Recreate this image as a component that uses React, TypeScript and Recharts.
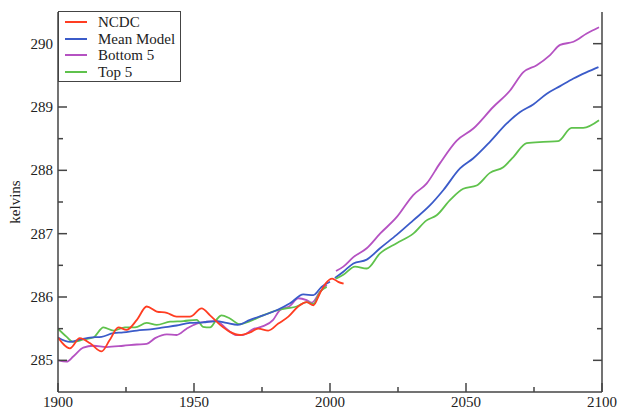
import { LineChart, Line, XAxis, YAxis, Legend } from 'recharts'

// [year, kelvins]
const ncdc = [
  [1900, 285.36], [1904.4, 285.19], [1908, 285.35], [1911.8, 285.27], [1916, 285.14], [1919, 285.32],
  [1922.2, 285.52], [1925.2, 285.48], [1929, 285.64], [1932.6, 285.85], [1936.3, 285.77], [1940, 285.75],
  [1943.6, 285.69], [1948.5, 285.69], [1952.8, 285.82], [1955.9, 285.71], [1959.6, 285.56], [1963.2, 285.45],
  [1966.9, 285.4], [1970.6, 285.44], [1973.6, 285.5], [1977.3, 285.47], [1981, 285.58], [1984.7, 285.69],
  [1988.3, 285.85], [1991.4, 285.92], [1993.9, 285.87], [1996.3, 286.06], [1998.5, 286.22], [2000.8, 286.29],
  [2003, 286.24], [2005, 286.21],
]

const meanHist = [
  [1900, 285.36], [1904.4, 285.29], [1908, 285.33], [1911.8, 285.36], [1916, 285.37], [1920.4, 285.43],
  [1924, 285.44], [1929, 285.47], [1934, 285.49], [1938.8, 285.52], [1943.6, 285.55], [1948.5, 285.59],
  [1953.3, 285.6], [1958.2, 285.62], [1961.9, 285.59], [1966.1, 285.56], [1970.6, 285.64], [1975.4, 285.71],
  [1980.4, 285.79], [1985.3, 285.9], [1990.2, 286.04], [1993.9, 286.03], [1996.9, 286.16], [2000, 286.24],
]

const meanProj = [
  [2001.8, 286.3], [2004.9, 286.4], [2008.6, 286.53], [2013.5, 286.59], [2018.4, 286.77], [2024.5, 286.98],
  [2030.6, 287.21], [2036.8, 287.45], [2041.7, 287.69], [2047.8, 288.03], [2052.7, 288.19], [2058.8, 288.45],
  [2065, 288.74], [2069.9, 288.92], [2074.7, 289.04], [2079.7, 289.21], [2084.6, 289.33], [2089.5, 289.45],
  [2094.4, 289.55], [2098.7, 289.63],
]

const bottomHist = [
  [1900, 285.0], [1903.2, 284.98], [1905.6, 285.06], [1909.3, 285.2], [1913, 285.23], [1917.9, 285.21],
  [1924, 285.23], [1929, 285.25], [1932.6, 285.26], [1935.7, 285.35], [1940, 285.41], [1943.6, 285.4],
  [1947.3, 285.5], [1951, 285.58], [1954.6, 285.61], [1958.2, 285.62], [1961.9, 285.5], [1965.5, 285.4],
  [1968, 285.4], [1971.6, 285.49], [1975.4, 285.54], [1979.1, 285.64], [1981.5, 285.79], [1985.3, 285.86],
  [1988.3, 285.98], [1991.4, 285.95], [1993.3, 285.91], [1996.3, 286.08], [1998.8, 286.19],
]

const bottomProj = [
  [2002.2, 286.41], [2004.9, 286.48], [2008.6, 286.63], [2013.5, 286.77], [2018.4, 287.0], [2024.5, 287.26],
  [2030.6, 287.61], [2035.5, 287.79], [2040.4, 288.11], [2046.6, 288.47], [2052.7, 288.66], [2060, 289.0],
  [2066.2, 289.26], [2071.1, 289.55], [2076, 289.66], [2080.9, 289.82], [2084.6, 289.98], [2089.5, 290.03],
  [2094.4, 290.16], [2098.9, 290.26],
]

const topHist = [
  [1900, 285.5], [1903.2, 285.37], [1905.6, 285.29], [1909.3, 285.33], [1913, 285.36], [1916.7, 285.52],
  [1920.4, 285.47], [1924.6, 285.52], [1928.3, 285.52], [1932.6, 285.59], [1936.3, 285.56], [1941.2, 285.61],
  [1946.1, 285.62], [1951, 285.64], [1953.3, 285.53], [1955.9, 285.52], [1958.2, 285.64], [1960.1, 285.71],
  [1963.2, 285.66], [1966.9, 285.57], [1970.6, 285.62], [1975.4, 285.71], [1980.4, 285.79], [1984, 285.82],
  [1987.7, 285.85], [1991.4, 285.92], [1993.9, 285.89], [1996.3, 286.08], [1998.8, 286.16],
]

const topProj = [
  [2002.2, 286.29], [2004.9, 286.35], [2009.2, 286.48], [2013.5, 286.45], [2018.4, 286.69], [2024.5, 286.85],
  [2030.6, 287.0], [2035.5, 287.21], [2039.2, 287.29], [2044.1, 287.53], [2049, 287.71], [2053.9, 287.76],
  [2058.8, 287.96], [2063.7, 288.05], [2067.4, 288.21], [2072.3, 288.43], [2078.4, 288.45], [2083.9, 288.46],
  [2088.8, 288.67], [2093.1, 288.67], [2098.9, 288.79],
]

const xTicks = [1900, 1925, 1950, 1975, 2000, 2025, 2050, 2075, 2100]
const yTicks = [285, 285.5, 286, 286.5, 287, 287.5, 288, 288.5, 289, 289.5, 290]
const legendNames = ['NCDC', 'Mean Model', 'Bottom 5', 'Top 5']

const toRows = (pts: number[][]) => pts.map(([year, k]) => ({ year, k }))

const FONT = '"Liberation Serif", "Times New Roman", serif'
const AXIS = '#444'

function makeTick(side: 'bottom' | 'top' | 'left' | 'right') {
  return (props: any) => {
    const { x, y, payload } = props
    const v = payload.value as number
    const major = side === 'bottom' || side === 'top' ? v % 50 === 0 : v % 1 === 0
    const len = major ? 9 : 5
    const showLabel = major && (side === 'bottom' || side === 'left')
    let line
    if (side === 'bottom') line = <line x1={x} x2={x} y1={y} y2={y - len} stroke={AXIS} strokeWidth={1.5} />
    else if (side === 'top') line = <line x1={x} x2={x} y1={y} y2={y + len} stroke={AXIS} strokeWidth={1.5} />
    else if (side === 'left') line = <line x1={x} x2={x + len} y1={y} y2={y} stroke={AXIS} strokeWidth={1.5} />
    else line = <line x1={x} x2={x - len} y1={y} y2={y} stroke={AXIS} strokeWidth={1.5} />
    return (
      <g>
        {line}
        {showLabel && side === 'bottom' && (
          <text x={x} y={y + 15} textAnchor="middle" fontSize={15} fontFamily={FONT} fill="#222">{v}</text>
        )}
        {showLabel && side === 'left' && (
          <text x={x - 5} y={y + 5} textAnchor="end" fontSize={15} fontFamily={FONT} fill="#222">{v}</text>
        )}
      </g>
    )
  }
}

function LegendBox({ payload }: any) {
  const items = legendNames.map((n) => (payload || []).find((p: any) => p.value === n)).filter(Boolean)
  return (
    <div style={{ border: `1.5px solid ${AXIS}`, background: '#fff', width: 123, height: 71, boxSizing: 'border-box', padding: '2px 0 0 6px', fontFamily: FONT, fontSize: 15, lineHeight: '16.5px', color: '#222', whiteSpace: 'nowrap', textAlign: 'left' }}>
      {items.map((p: any) => (
        <div key={p.value} style={{ display: 'flex', alignItems: 'center' }}>
          <span style={{ display: 'inline-block', width: 22, height: 2, background: p.color, marginRight: 11 }} />
          <span>{p.value}</span>
        </div>
      ))}
    </div>
  )
}

export default function App() {
  return (
    <div style={{ position: 'absolute', left: 0, top: 0, background: '#fff' }}>
      <LineChart width={628} height={409} margin={{ top: 12, right: 0, bottom: 0, left: 0 }}>
        <XAxis xAxisId="b" dataKey="year" type="number" domain={[1900, 2100]} ticks={xTicks} interval={0}
          orientation="bottom" height={17} tickSize={0} tickMargin={0} tickLine={false}
          axisLine={{ stroke: AXIS, strokeWidth: 1.5 }} tick={makeTick('bottom')} allowDataOverflow />
        <XAxis xAxisId="t" dataKey="year" type="number" domain={[1900, 2100]} ticks={xTicks} interval={0}
          orientation="top" height={0} tickSize={0} tickMargin={0} tickLine={false}
          axisLine={{ stroke: AXIS, strokeWidth: 1.5 }} tick={makeTick('top')} allowDataOverflow />
        <YAxis yAxisId="l" dataKey="k" type="number" domain={[284.5, 290.5]} ticks={yTicks} interval={0}
          orientation="left" width={58} tickSize={0} tickMargin={0} tickLine={false}
          axisLine={{ stroke: AXIS, strokeWidth: 1.5 }} tick={makeTick('left')} allowDataOverflow
          label={{ value: 'kelvins', angle: -90, position: 'insideLeft', offset: 15, style: { fontFamily: FONT, fontSize: 15, fill: '#222', textAnchor: 'middle' } }} />
        <YAxis yAxisId="r" dataKey="k" type="number" domain={[284.5, 290.5]} ticks={yTicks} interval={0}
          orientation="right" width={26} tickSize={0} tickMargin={0} tickLine={false}
          axisLine={{ stroke: AXIS, strokeWidth: 1.5 }} tick={makeTick('right')} allowDataOverflow />
        <Legend content={<LegendBox />} layout="horizontal" verticalAlign="middle" align="center"
          wrapperStyle={{ left: 58, top: 11, width: 'auto', height: 'auto' }} />

        <Line xAxisId="b" yAxisId="l" data={toRows(bottomHist)} dataKey="k" type="monotone" stroke="#b552c2" strokeWidth={1.8} dot={false} legendType="none" isAnimationActive={false} />
        <Line xAxisId="b" yAxisId="l" data={toRows(topHist)} dataKey="k" type="monotone" stroke="#5fc24c" strokeWidth={1.8} dot={false} legendType="none" isAnimationActive={false} />
        <Line xAxisId="b" yAxisId="l" data={toRows(meanHist)} dataKey="k" type="monotone" stroke="#3b5bc9" strokeWidth={1.8} dot={false} legendType="none" isAnimationActive={false} />
        <Line xAxisId="b" yAxisId="l" data={toRows(ncdc)} dataKey="k" name="NCDC" type="monotone" stroke="#ff3d22" strokeWidth={1.8} dot={false} isAnimationActive={false} />
        <Line xAxisId="b" yAxisId="l" data={toRows(meanProj)} dataKey="k" name="Mean Model" type="monotone" stroke="#3b5bc9" strokeWidth={1.8} dot={false} isAnimationActive={false} />
        <Line xAxisId="b" yAxisId="l" data={toRows(bottomProj)} dataKey="k" name="Bottom 5" type="monotone" stroke="#b552c2" strokeWidth={1.8} dot={false} isAnimationActive={false} />
        <Line xAxisId="b" yAxisId="l" data={toRows(topProj)} dataKey="k" name="Top 5" type="monotone" stroke="#5fc24c" strokeWidth={1.8} dot={false} isAnimationActive={false} />
      </LineChart>
    </div>
  )
}
